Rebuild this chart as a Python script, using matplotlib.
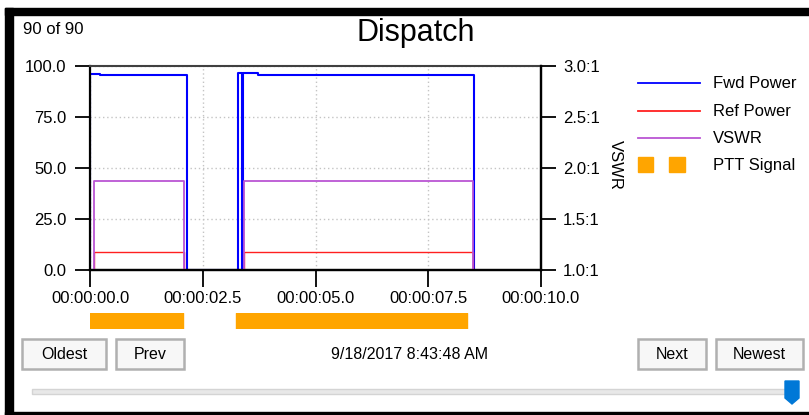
import matplotlib
matplotlib.use('Agg')
import matplotlib.pyplot as plt
from matplotlib.patches import Rectangle, Polygon
from matplotlib.ticker import FuncFormatter

plt.rcParams['font.family'] = ['Liberation Sans', 'DejaVu Sans']

W, H = 809, 415  # figure size in pixels (dpi 100)

# Readings: times in seconds, held until the next sample (step plot)
fwd_t = [0.0, 0.01, 0.22, 2.16, 3.29, 3.37, 3.39, 3.72, 8.51]
fwd_power = [0.0, 96.2, 95.4, 0.0, 96.4, 0.0, 96.4, 95.4, 0.0]

ref_t = [0.0, 0.095, 2.08, 3.41, 8.49]
ref_power = [0.0, 8.7, 0.0, 8.7, 0.0]
vswr = [1.0, 1.872, 1.0, 1.876, 1.0]

# PTT keyed intervals (start, duration)
ptt_spans = [(0.0, 2.07), (3.24, 5.13)]

x_ticks = [0.0, 2.5, 5.0, 7.5, 10.0]
power_ticks = [0, 25, 50, 75, 100]
vswr_ticks = [1.0, 1.5, 2.0, 2.5, 3.0]

legend_items = [('Fwd Power', '#0000ff'), ('Ref Power', '#ff2020'), ('VSWR', '#ba55d3')]
ptt_color = '#ffa500'


def px(x0, y0, w, h):
    # pixel box (top-left origin) -> figure fraction rect
    return [x0 / W, (H - y0 - h) / H, w / W, h / H]


fig = plt.figure(figsize=(W / 100, H / 100), dpi=100)

# window chrome drawn on a full-figure overlay in pixel units
ui = fig.add_axes([0, 0, 1, 1])
ui.set_xlim(0, W)
ui.set_ylim(H, 0)
ui.axis('off')
ui.add_patch(Rectangle((5, 8), W - 5, 7, color='black'))
ui.add_patch(Rectangle((5, 8), 8, H - 8, color='black'))
ui.add_patch(Rectangle((5, 412), W - 5, 3, color='black'))

ui.text(23, 30, '90 of 90', fontsize=12, va='center')
ui.text(416, 33, 'Dispatch', fontsize=22, ha='center', va='center')
ui.text(410, 354, '9/18/2017 8:43:48 AM', fontsize=11.5, ha='center', va='center')

for label, x0, x1 in [('Oldest', 22, 106), ('Prev', 116, 184), ('Next', 638, 706), ('Newest', 716, 803)]:
    ui.add_patch(Rectangle((x0, 339), x1 - x0, 30, facecolor='#f7f7f7', edgecolor='#b0b0b0', lw=1.8))
    ui.text((x0 + x1) / 2, 354, label, fontsize=11.5, ha='center', va='center')

# slider
ui.add_patch(Rectangle((32, 389), 757, 5, facecolor='#e8e8e8', edgecolor='#d4d4d4', lw=1))
ui.add_patch(Polygon([(785, 381), (799, 381), (799, 398), (792, 404), (785, 398)], color='#0078d7'))

# legend
for i, (label, color) in enumerate(legend_items):
    y = 83.5 + i * 27.5
    ui.plot([638, 700], [y, y], color=color, lw=1.3)
    ui.text(713, y, label, fontsize=12, va='center')
ui.add_patch(Rectangle((638, 157), 15, 15, color=ptt_color))
ui.add_patch(Rectangle((669, 157), 16, 15, color=ptt_color))
ui.text(713, 165, 'PTT Signal', fontsize=12, va='center')

# main chart
ax = fig.add_axes(px(90, 66, 451, 204))
ax.set_xlim(0, 10)
ax.set_ylim(0, 100)
ax.step(fwd_t, fwd_power, where='post', color='#0000ff', lw=1.5, zorder=1.5)
ax.step(ref_t, ref_power, where='post', color='#ff2020', lw=1.0, zorder=1.5)
ax.set_xticks(x_ticks)
ax.set_yticks(power_ticks)
ax.xaxis.set_major_formatter(FuncFormatter(lambda v, p: '00:00:%04.1f' % v))
ax.yaxis.set_major_formatter(FuncFormatter(lambda v, p: '%.1f' % v))
ax.tick_params(axis='x', direction='out', length=12, width=1.3, labelsize=12, pad=3)
ax.tick_params(axis='y', direction='out', length=11, width=1.3, labelsize=12, pad=6)
ax.grid(True, color='#c4c4c4', ls=(0, (1, 2)), lw=1)
ax.set_axisbelow(True)
for side in ['left', 'bottom', 'right']:
    ax.spines[side].set_color('black')
    ax.spines[side].set_linewidth(1.6)
ax.spines['top'].set_color('#404040')
ax.spines['top'].set_linewidth(1.5)

ax2 = ax.twinx()
ax2.set_ylim(1, 3)
ax2.step(ref_t, vswr, where='post', color='#ba55d3', lw=1.3)
ax2.set_yticks(vswr_ticks)
ax2.yaxis.set_major_formatter(FuncFormatter(lambda v, p: '%.1f:1' % v))
ax2.tick_params(axis='y', direction='out', length=11, width=1.3, labelsize=12, pad=5)
for side in ax2.spines:
    ax2.spines[side].set_visible(side in ('right', 'bottom'))
ax2.spines['right'].set_linewidth(1.6)
ax2.spines['bottom'].set_linewidth(1.6)
ax2.set_ylabel('VSWR', rotation=270, fontsize=12, va='center', ha='center')
ax2.yaxis.set_label_coords(1.164, 0.515)

# PTT strip under the time axis
ax3 = fig.add_axes(px(90, 313, 451, 16))
ax3.set_xlim(0, 10)
ax3.set_ylim(0, 1)
ax3.broken_barh(ptt_spans, (0, 1), color=ptt_color)
ax3.axis('off')

fig.savefig('out.png', dpi=100)
